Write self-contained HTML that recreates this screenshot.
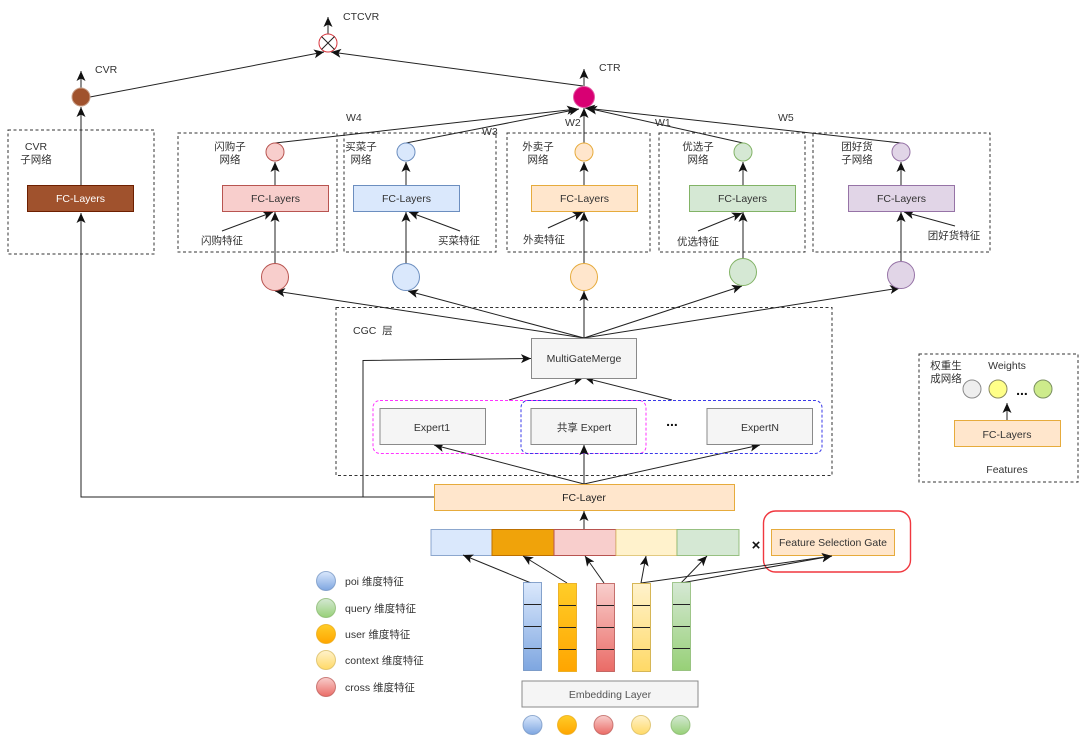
<!DOCTYPE html>
<html>
<head>
<meta charset="utf-8">
<style>
html,body{margin:0;padding:0;background:#fff;width:1080px;height:736px;overflow:hidden}
svg{display:block;filter:blur(0.3px)}
text{font-family:"Liberation Sans","Noto Sans CJK SC",sans-serif;font-size:10.5px;fill:#333;text-anchor:middle}
.l{text-anchor:start}
.a{stroke:#222;stroke-width:1;fill:none;marker-end:url(#ar)}
.n{stroke:#222;stroke-width:1;fill:none}
.d{fill:none;stroke:#333;stroke-width:1;stroke-dasharray:3 2.500}
.div{stroke:#222;stroke-width:1}
</style>
</head>
<body>
<svg width="1080" height="736" viewBox="0 0 1080 736" xmlns="http://www.w3.org/2000/svg">
<defs>
<marker id="ar" markerUnits="userSpaceOnUse" markerWidth="11" markerHeight="10" refX="10" refY="4.500" orient="auto">
<path d="M10,4.500 L0,0 L2.500,4.500 L0,9 Z" fill="#111"/>
</marker>
<linearGradient id="gb" x1="0" y1="0" x2="0" y2="1"><stop offset="0" stop-color="#dae8fc"/><stop offset="1" stop-color="#7ea6e0"/></linearGradient>
<linearGradient id="go" x1="0" y1="0" x2="0" y2="1"><stop offset="0" stop-color="#ffcd28"/><stop offset="1" stop-color="#ffa500"/></linearGradient>
<linearGradient id="gr" x1="0" y1="0" x2="0" y2="1"><stop offset="0" stop-color="#f8cecc"/><stop offset="1" stop-color="#ea6b66"/></linearGradient>
<linearGradient id="gy" x1="0" y1="0" x2="0" y2="1"><stop offset="0" stop-color="#fff2cc"/><stop offset="1" stop-color="#ffd966"/></linearGradient>
<linearGradient id="gg" x1="0" y1="0" x2="0" y2="1"><stop offset="0" stop-color="#d5e8d4"/><stop offset="1" stop-color="#97d077"/></linearGradient>
</defs>

<!-- dashed containers -->
<rect class="d" x="8" y="130" width="146" height="124"/>
<rect class="d" x="178" y="133" width="159" height="119"/>
<rect class="d" x="344" y="133" width="152" height="119"/>
<rect class="d" x="507" y="133" width="143" height="119"/>
<rect class="d" x="659" y="133" width="146" height="119"/>
<rect class="d" x="813" y="133" width="177" height="119"/>
<rect class="d" x="336" y="307.500" width="496" height="168"/>
<rect class="d" x="919" y="354" width="159" height="128"/>

<!-- top connectors -->
<line class="a" x1="328" y1="34" x2="328" y2="17"/>
<line class="a" x1="81" y1="88" x2="81" y2="71"/>
<line class="a" x1="90" y1="97" x2="324" y2="52"/>
<line class="a" x1="583" y1="86" x2="331" y2="52"/>
<line class="a" x1="584" y1="87" x2="584" y2="69"/>

<!-- sub-tower connectors to CTR -->
<line class="a" x1="275" y1="143" x2="577" y2="109"/>
<line class="a" x1="406" y1="143" x2="579" y2="109"/>
<line class="a" x1="584" y1="143" x2="584" y2="108"/>
<line class="a" x1="743" y1="143" x2="587" y2="108"/>
<line class="a" x1="901" y1="143" x2="585" y2="108"/>

<!-- CVR tower -->
<line class="a" x1="81" y1="185" x2="81" y2="107"/>
<polyline class="a" points="434,497 81,497 81,213"/>
<polyline class="a" points="363,497 363,360.500 531,358.500"/>

<!-- tower vertical connectors -->
<line class="a" x1="275" y1="185" x2="275" y2="162"/>
<line class="a" x1="406" y1="185" x2="406" y2="162"/>
<line class="a" x1="584" y1="185" x2="584" y2="162"/>
<line class="a" x1="743" y1="185" x2="743" y2="162"/>
<line class="a" x1="901" y1="185" x2="901" y2="162"/>
<line class="a" x1="275" y1="264" x2="275" y2="212"/>
<line class="a" x1="406" y1="263" x2="406" y2="212"/>
<line class="a" x1="584" y1="263" x2="584" y2="212"/>
<line class="a" x1="743" y1="258" x2="743" y2="212"/>
<line class="a" x1="901" y1="261" x2="901" y2="212"/>

<!-- feature inputs -->
<line class="a" x1="222" y1="231" x2="273" y2="212"/>
<line class="a" x1="460" y1="231" x2="409" y2="212"/>
<line class="a" x1="548" y1="228" x2="583" y2="212"/>
<line class="a" x1="698" y1="231" x2="742" y2="213"/>
<line class="a" x1="955" y1="226" x2="904" y2="212"/>

<!-- multigate to towers -->
<line class="a" x1="584" y1="338" x2="275" y2="291"/>
<line class="a" x1="584" y1="338" x2="408" y2="291"/>
<line class="a" x1="584" y1="338" x2="584" y2="291"/>
<line class="a" x1="584" y1="338" x2="742" y2="286"/>
<line class="a" x1="584" y1="338" x2="900" y2="288"/>

<!-- expert connectors -->
<line class="a" x1="509" y1="400" x2="583" y2="378"/>
<line class="a" x1="672" y1="400" x2="585" y2="378"/>
<line class="a" x1="584" y1="484" x2="434" y2="445"/>
<line class="a" x1="584" y1="484" x2="584" y2="445"/>
<line class="a" x1="584" y1="484" x2="760" y2="445"/>
<line class="a" x1="584" y1="529" x2="584" y2="511"/>

<!-- tower circles -->
<circle cx="81" cy="97" r="9" fill="#a0522d" stroke="#c9a08a" stroke-width="1"/>
<circle cx="328" cy="43" r="9" fill="#fff" stroke="#d9363e" stroke-width="1"/>
<path d="M321.500,36.500 L334.500,49.500 M334.500,36.500 L321.500,49.500" stroke="#222" stroke-width="1"/>
<circle cx="584" cy="97" r="10.500" fill="#d80073" stroke="#e35aa5" stroke-width="1"/>

<circle cx="275" cy="152" r="9" fill="#f8cecc" stroke="#b85450"/>
<circle cx="406" cy="152" r="9" fill="#dae8fc" stroke="#6c8ebf"/>
<circle cx="584" cy="152" r="9" fill="#ffe6cc" stroke="#e6ab3c"/>
<circle cx="743" cy="152" r="9" fill="#d5e8d4" stroke="#82b366"/>
<circle cx="901" cy="152" r="9" fill="#e1d5e7" stroke="#9673a6"/>

<circle cx="275" cy="277" r="13.500" fill="#f8cecc" stroke="#b85450"/>
<circle cx="406" cy="277" r="13.500" fill="#dae8fc" stroke="#6c8ebf"/>
<circle cx="584" cy="277" r="13.500" fill="#ffe6cc" stroke="#e6ab3c"/>
<circle cx="743" cy="272" r="13.500" fill="#d5e8d4" stroke="#82b366"/>
<circle cx="901" cy="275" r="13.500" fill="#e1d5e7" stroke="#9673a6"/>

<!-- FC boxes -->
<rect x="27.500" y="185.500" width="106" height="26" fill="#a0522d" stroke="#6d1f00"/>
<rect x="222.500" y="185.500" width="106" height="26" fill="#f8cecc" stroke="#b85450"/>
<rect x="353.500" y="185.500" width="106" height="26" fill="#dae8fc" stroke="#6c8ebf"/>
<rect x="531.500" y="185.500" width="106" height="26" fill="#ffe6cc" stroke="#e6ab3c"/>
<rect x="689.500" y="185.500" width="106" height="26" fill="#d5e8d4" stroke="#82b366"/>
<rect x="848.500" y="185.500" width="106" height="26" fill="#e1d5e7" stroke="#9673a6"/>

<text x="80.500" y="202" style="fill:#fff">FC-Layers</text>
<text x="275.500" y="202">FC-Layers</text>
<text x="406.500" y="202">FC-Layers</text>
<text x="584.500" y="202">FC-Layers</text>
<text x="742.500" y="202">FC-Layers</text>
<text x="901.500" y="202">FC-Layers</text>

<!-- CGC -->
<rect x="373" y="400.500" width="273" height="53" rx="7" fill="none" stroke="#ff33ff" stroke-width="1" stroke-dasharray="3 2"/>
<rect x="521" y="400.500" width="301" height="53" rx="7" fill="none" stroke="#3a3ae8" stroke-width="1" stroke-dasharray="3 2"/>
<rect x="531.500" y="338.500" width="105" height="40" fill="#f5f5f5" stroke="#8a8a8a"/>
<rect x="380" y="408.500" width="105.500" height="36" fill="#f5f5f5" stroke="#8a8a8a"/>
<rect x="531" y="408.500" width="105.500" height="36" fill="#f5f5f5" stroke="#8a8a8a"/>
<rect x="707" y="408.500" width="105.500" height="36" fill="#f5f5f5" stroke="#8a8a8a"/>
<line class="a" x1="584" y1="462" x2="584" y2="445"/>
<text x="584" y="362">MultiGateMerge</text>
<text x="432" y="431">Expert1</text>
<text x="584" y="431">共享 Expert</text>
<text x="760" y="431">ExpertN</text>
<text x="672" y="426" style="font-size:14px;font-weight:bold;fill:#111">...</text>
<text class="l" x="353" y="334">CGC&#160;&#160;层</text>

<!-- FC Layer -->
<rect x="434.500" y="484.500" width="300" height="26" fill="#ffe6cc" stroke="#e6ab3c"/>
<text x="584" y="501" style="fill:#222">FC-Layer</text>

<!-- Feature row -->
<rect x="431" y="529.500" width="61" height="26" fill="#dae8fc" stroke="#6c8ebf" stroke-opacity=".75"/>
<rect x="492" y="529.500" width="62" height="26" fill="#f0a30a" stroke="#bd7000"/>
<rect x="554" y="529.500" width="62" height="26" fill="#f8cecc" stroke="#b85450"/>
<rect x="616" y="529.500" width="61" height="26" fill="#fff2cc" stroke="#d6b656" stroke-opacity=".7"/>
<rect x="677" y="529.500" width="62" height="26" fill="#d5e8d4" stroke="#82b366" stroke-opacity=".8"/>
<text x="756" y="550" style="font-size:15px;font-weight:bold;fill:#111">×</text>

<!-- gate -->
<rect x="763.500" y="511" width="147" height="61" rx="12" fill="none" stroke="#f0373f" stroke-width="1.400"/>
<rect x="771.500" y="529.500" width="123" height="26" fill="#ffe6cc" stroke="#e6ab3c"/>
<text x="833" y="546">Feature Selection Gate</text>

<!-- feature connectors -->
<line class="a" x1="531" y1="583" x2="463" y2="555"/>
<line class="a" x1="567" y1="583" x2="523" y2="556"/>
<line class="a" x1="604" y1="583" x2="585" y2="556"/>
<line class="a" x1="641" y1="583" x2="646" y2="556"/>
<line class="a" x1="681" y1="583" x2="707" y2="556"/>
<line class="a" x1="641" y1="583" x2="832" y2="556"/>
<line class="a" x1="681" y1="583" x2="832" y2="556"/>

<!-- Columns -->
<rect x="523.500" y="582.500" width="18" height="88" fill="url(#gb)" stroke="#6c8ebf" stroke-opacity=".8"/>
<rect x="558.500" y="583.500" width="18" height="88" fill="url(#go)" stroke="#e8a60f" stroke-opacity=".8"/>
<rect x="596.500" y="583.500" width="18" height="88" fill="url(#gr)" stroke="#b85450" stroke-opacity=".8"/>
<rect x="632.500" y="583.500" width="18" height="88" fill="url(#gy)" stroke="#d6b656"/>
<rect x="672.500" y="582.500" width="18" height="88" fill="url(#gg)" stroke="#82b366" stroke-opacity=".7"/>
<path class="div" d="M524,604.500H541M524,626.500H541M524,648.500H541M559,605.500H576M559,627.500H576M559,649.500H576M597,605.500H614M597,627.500H614M597,649.500H614M633,605.500H650M633,627.500H650M633,649.500H650M673,604.500H690M673,626.500H690M673,648.500H690"/>

<!-- Embedding -->
<rect x="522" y="681" width="176" height="26" fill="#f5f5f5" stroke="#8a8a8a"/>
<text x="610" y="698" style="fill:#555">Embedding Layer</text>
<circle cx="532.500" cy="725" r="9.500" fill="url(#gb)" stroke="#6c8ebf" stroke-opacity=".7"/>
<circle cx="567" cy="725" r="9.500" fill="url(#go)" stroke="#e8a60f" stroke-opacity=".7"/>
<circle cx="603.500" cy="725" r="9.500" fill="url(#gr)" stroke="#b85450" stroke-opacity=".7"/>
<circle cx="641" cy="725" r="9.500" fill="url(#gy)" stroke="#d6b656" stroke-opacity=".7"/>
<circle cx="680.500" cy="725" r="9.500" fill="url(#gg)" stroke="#82b366" stroke-opacity=".7"/>

<!-- legend -->
<circle cx="326" cy="581" r="9.500" fill="url(#gb)" stroke="#6c8ebf" stroke-opacity=".7"/>
<circle cx="326" cy="608" r="9.500" fill="url(#gg)" stroke="#82b366" stroke-opacity=".7"/>
<circle cx="326" cy="634" r="9.500" fill="url(#go)" stroke="#e8a60f" stroke-opacity=".7"/>
<circle cx="326" cy="660" r="9.500" fill="url(#gy)" stroke="#d6b656" stroke-opacity=".7"/>
<circle cx="326" cy="687" r="9.500" fill="url(#gr)" stroke="#b85450" stroke-opacity=".7"/>
<text class="l" x="345" y="585">poi 维度特征</text>
<text class="l" x="345" y="612">query 维度特征</text>
<text class="l" x="345" y="638">user 维度特征</text>
<text class="l" x="345" y="664">context 维度特征</text>
<text class="l" x="345" y="691">cross 维度特征</text>

<!-- weight network -->
<line class="a" x1="1007" y1="420" x2="1007" y2="403"/>
<circle cx="972" cy="389" r="9" fill="#eeeeee" stroke="#8a8a8a"/>
<circle cx="998" cy="389" r="9" fill="#ffff88" stroke="#8a8a60"/>
<circle cx="1043" cy="389" r="9" fill="#cdeb8b" stroke="#7a8f60"/>
<rect x="954.500" y="420.500" width="106" height="26" fill="#ffe6cc" stroke="#e6ab3c"/>
<text x="1007" y="438">FC-Layers</text>
<text x="1007" y="369">Weights</text>
<text x="1007" y="473">Features</text>
<text x="946" y="369">权重生</text>
<text x="946" y="382">成网络</text>
<text x="1022" y="395" style="font-size:14px;font-weight:bold;fill:#111">...</text>

<!-- labels -->
<text class="l" x="343" y="20">CTCVR</text>
<text class="l" x="95" y="73">CVR</text>
<text class="l" x="599" y="71">CTR</text>
<text class="l" x="346" y="121">W4</text>
<text class="l" x="482" y="135">W3</text>
<text class="l" x="565" y="126">W2</text>
<text class="l" x="655" y="126">W1</text>
<text class="l" x="778" y="121">W5</text>

<text x="36" y="150">CVR</text>
<text x="36" y="163">子网络</text>
<text x="230" y="150">闪购子</text>
<text x="230" y="163">网络</text>
<text x="361" y="150">买菜子</text>
<text x="361" y="163">网络</text>
<text x="538" y="150">外卖子</text>
<text x="538" y="163">网络</text>
<text x="698" y="150">优选子</text>
<text x="698" y="163">网络</text>
<text x="857" y="150">团好货</text>
<text x="857" y="163">子网络</text>

<text x="222" y="244">闪购特征</text>
<text x="459" y="244">买菜特征</text>
<text x="544" y="243">外卖特征</text>
<text x="698" y="245">优选特征</text>
<text x="954" y="239">团好货特征</text>
</svg>
</body>
</html>
